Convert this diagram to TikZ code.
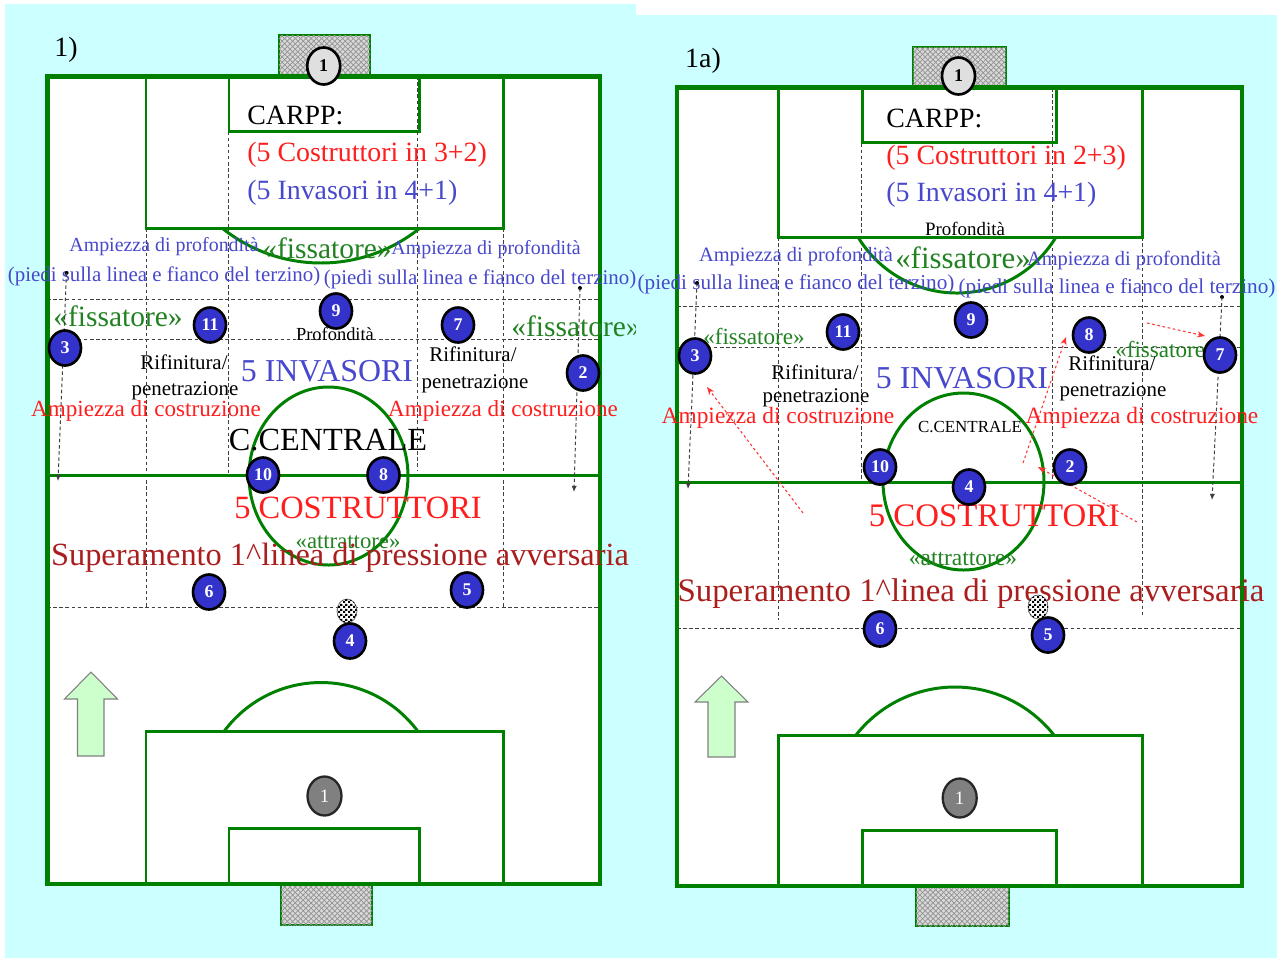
\documentclass[tikz,border=0pt]{standalone}
\usepackage{fontspec}
\setmainfont{Liberation Serif}
\usetikzlibrary{shapes.geometric,patterns,arrows.meta}
\definecolor{bgcyan}{RGB}{204,255,255}
\definecolor{pitchgreen}{RGB}{0,128,0}
\definecolor{txtblue}{RGB}{72,72,204}
\definecolor{txtgreen}{RGB}{34,130,34}
\definecolor{txtred}{RGB}{255,30,30}
\definecolor{txtdred}{RGB}{170,30,30}
\definecolor{plblue}{RGB}{51,51,204}
\definecolor{arrowfill}{RGB}{204,255,204}
\pgfdeclarepatternformonly{finecheck}{\pgfpointorigin}{\pgfqpoint{2.6pt}{2.6pt}}{\pgfqpoint{2.6pt}{2.6pt}}{%
  \pgfpathrectangle{\pgfpointorigin}{\pgfqpoint{1.3pt}{1.3pt}}%
  \pgfpathrectangle{\pgfqpoint{1.3pt}{1.3pt}}{\pgfqpoint{1.3pt}{1.3pt}}%
  \pgfusepath{fill}}
\newcommand\pxf[1]{\edef\pxsize{\fpeval{round(#1*0.5669,2)}}\fontsize{\pxsize pt}{\pxsize pt}\selectfont}
\tikzset{
  player/.style={ellipse, draw=black, line width=1.5pt, fill=plblue, text=white, font=\bfseries\pxf{18}, minimum width=0.64cm, minimum height=0.70cm, inner sep=0pt},
  gkhi/.style={ellipse, draw=black, line width=1.5pt, fill=gray!25, text=black, font=\bfseries\pxf{18}, minimum width=0.66cm, minimum height=0.74cm, inner sep=0pt},
  gklo/.style={ellipse, draw=black!85, line width=1.3pt, fill=gray, text=white, font=\pxf{19}, minimum width=0.68cm, minimum height=0.78cm, inner sep=0pt},
  ballst/.style={ellipse, draw=black!60, line width=0.4pt, fill=white, postaction={pattern=finecheck}, minimum width=0.40cm, minimum height=0.48cm, inner sep=0pt},
  lbl/.style={inner sep=0pt, anchor=center},
  pline/.style={draw=pitchgreen, line width=1.7pt},
  outerline/.style={draw=pitchgreen, line width=2.8pt},
  gridline/.style={draw=black!75, line width=0.55pt, dash pattern=on 2pt off 1.5pt},
  sidearr/.style={gridline, -{Latex[length=3.5pt,width=3pt]}},
  redarr/.style={draw=red!80, line width=0.6pt, dash pattern=on 1.5pt off 1.5pt, -{Stealth[length=4.5pt,width=3.5pt]}},
  goalbox/.style={draw=pitchgreen, line width=1.5pt, fill=gray!30, postaction={pattern=crosshatch, pattern color=gray!85}},
  bigarrow/.style={fill=arrowfill, draw=gray, line width=0.6pt},
}
\begin{document}
\begin{tikzpicture}[x=0.02cm, y=-0.02cm]
\useasboundingbox (0,0) rectangle (1277,961);
\fill[white] (0,0) rectangle (1277,961);
% ================= LEFT PANEL =================
\fill[bgcyan] (5,4) rectangle (636,958);
\fill[white] (47.5,76.5) rectangle (600,884);
\draw[goalbox] (279,35) rectangle (370,76.5);
\draw[goalbox] (281,884) rectangle (372,925);
\draw[gridline] (146,228) -- (146,608);
\draw[gridline] (228,76) -- (228,475);
\draw[gridline] (417,76) -- (417,470);
\draw[gridline] (503,228) -- (503,608);
\draw[gridline] (47,299) -- (600,299);
\draw[gridline] (47,339) -- (600,339);
\draw[gridline] (47,607) -- (600,607);
\draw[pline] (146,76.5) rectangle (503,228);
\draw[pline] (229,76.5) rectangle (419,131);
\draw[pline] (420,228) arc[start angle=51.06,end angle=128.94,radius=157.5];
\draw[pline] (146,731.5) rectangle (503,884);
\draw[pline] (229,828) rectangle (419,884);
\draw[pline] (224,731.5) arc[start angle=216.4,end angle=323.6,radius=120.5];
\draw[pline] (47.5,475.5) -- (600,475.5);
\draw[pline] (328.5,476) ellipse [x radius=79.5, y radius=89];
\draw[outerline] (47.5,76.5) rectangle (600,884);
\draw[bigarrow] (77.5,756) -- (77.5,699) -- (64.5,699) -- (91,672) -- (117.5,699) -- (104,699) -- (104,756) -- cycle;
% texts
\node[lbl,font=\pxf{28}] (Lnum) at (66,50) {1)};
\node[lbl,anchor=west,font=\pxf{28}] (Lcarpp) at (247,115.5) {CARPP:};
\node[lbl,anchor=west,font=\pxf{28},text=txtred] (Lcos) at (247,155) {(5 Costruttori in 3+2)};
\node[lbl,anchor=west,font=\pxf{28},text=txtblue] (Linv) at (247,193) {(5 Invasori in 4+1)};
\node[lbl,font=\pxf{20},text=txtblue] (Lap1) at (164,247) {Ampiezza di profondità};
\node[lbl,font=\pxf{21},text=txtblue] (Lpi1) at (164,276) {(piedi sulla linea e fianco del terzino)};
\node[lbl,font=\pxf{29.6},text=txtgreen] (Lfc) at (327,248) {«fissatore»};
\node[lbl,font=\pxf{20},text=txtblue] (Lap2) at (486,250) {Ampiezza di profondità};
\node[lbl,font=\pxf{21},text=txtblue] (Lpi2) at (480,279) {(piedi sulla linea e fianco del terzino)};
\node[lbl,font=\pxf{29.6},text=txtgreen] (Lfl) at (118,316) {«fissatore»};
\node[lbl,font=\pxf{29.6},text=txtgreen] (Lfr) at (576,326) {«fissatore»};
\node[lbl,font=\pxf{18.5}] (Lprof) at (335,334) {Profondità};
\node[lbl,font=\pxf{21}] (Lri1) at (184,362) {Rifinitura/};
\node[lbl,font=\pxf{21}] (Lpe1) at (185,391) {penetrazione};
\node[lbl,font=\pxf{21}] (Lri2) at (473,354) {Rifinitura/};
\node[lbl,font=\pxf{21}] (Lpe2) at (475,384) {penetrazione};
\node[lbl,font=\pxf{32},text=txtblue] (Linvb) at (327,371) {5 INVASORI};
\node[lbl,font=\pxf{23.2},text=txtred] (Lac1) at (146,411) {Ampiezza di costruzione};
\node[lbl,font=\pxf{23.2},text=txtred] (Lac2) at (503,411) {Ampiezza di costruzione};
\node[lbl,font=\pxf{32.4}] (Lcc) at (328,440) {C.CENTRALE};
\node[lbl,font=\pxf{32.6},text=txtred] (Lcost) at (358,508) {5 COSTRUTTORI};
\node[lbl,font=\pxf{22.8},text=txtgreen] (Latt) at (348,542) {«attrattore»};
\node[lbl,font=\pxf{32.5},text=txtdred] (Lsup) at (340,558) {Superamento 1\textasciicircum linea di pressione avversaria};
% side arrows
\coordinate (Ls1a) at (66.5,273); \coordinate (Ls1b) at (58,481);
\coordinate (Ls2a) at (580,288); \coordinate (Ls2b) at (574,492);
\fill (Ls1a) circle[radius=2]; \fill (Ls2a) circle[radius=2];
\draw[sidearr] (Ls1a) -- (Ls1b);
\draw[sidearr] (Ls2a) -- (Ls2b);
% players
\node[gkhi] (Lgk1) at (323.7,66) {1};
\node[gklo] (Lgk2) at (324.5,796) {1};
\node[player] (L3) at (65,348) {3};
\node[player] (L11) at (210,325) {11};
\node[player] (L9) at (336,311) {9};
\node[player] (L7) at (458,325) {7};
\node[player] (L2) at (583,373) {2};
\node[player] (L10) at (263,475) {10};
\node[player] (L8) at (383.5,475) {8};
\node[player] (L6) at (209,592) {6};
\node[player] (L5) at (467,590) {5};
\node[ballst] (Lball) at (347,611) {};
\node[player] (L4) at (350,641) {4};
% ================= RIGHT PANEL =================
\fill[bgcyan] (636,15) rectangle (1277,958);
\fill[white] (677,87.5) rectangle (1242,886);
\draw[goalbox] (913,47) rectangle (1006,87.5);
\draw[goalbox] (916,886) rectangle (1009,926);
\draw[gridline] (778,237) -- (778,620);
\draw[gridline] (861,88) -- (861,482);
\draw[gridline] (1052,88) -- (1052,482);
\draw[gridline] (1142,237) -- (1142,615);
\draw[gridline] (677,306) -- (1242,306);
\draw[gridline] (677,347) -- (1242,347);
\draw[gridline] (677,628) -- (1242,628);
\draw[pline] (778,87.5) rectangle (1142,237);
\draw[pline] (862.5,87.5) rectangle (1056,142);
\draw[pline] (1056,237) arc[start angle=31,end angle=149,radius=115.5];
\draw[pline] (778,735) rectangle (1142,886);
\draw[pline] (862.5,830) rectangle (1056,886);
\draw[pline] (856,735) arc[start angle=218.25,end angle=321.75,radius=126];
\draw[pline] (677,482) -- (1242,482);
\draw[pline] (963.5,481.5) ellipse [x radius=80.5, y radius=88.5];
\draw[outerline] (677,87.5) rectangle (1242,886);
\draw[bigarrow] (708,757) -- (708,702) -- (695,702) -- (721.5,676) -- (748,702) -- (735,702) -- (735,757) -- cycle;
% texts
\node[lbl,font=\pxf{28}] (Rnum) at (703,61) {1a)};
\node[lbl,anchor=west,font=\pxf{28}] (Rcarpp) at (886,118) {CARPP:};
\node[lbl,anchor=west,font=\pxf{28},text=txtred] (Rcos) at (886,158) {(5 Costruttori in 2+3)};
\node[lbl,anchor=west,font=\pxf{28},text=txtblue] (Rinv) at (886,195) {(5 Invasori in 4+1)};
\node[lbl,font=\pxf{19}] (Rprof) at (965,229) {Profondità};
\node[lbl,font=\pxf{20.5},text=txtblue] (Rap1) at (796,256) {Ampiezza di profondità};
\node[lbl,font=\pxf{21.3},text=txtblue] (Rpi1) at (796,284) {(piedi sulla linea e fianco del terzino)};
\node[lbl,font=\pxf{31},text=txtgreen] (Rfc) at (963,258) {«fissatore»};
\node[lbl,font=\pxf{20.5},text=txtblue] (Rap2) at (1124,260) {Ampiezza di profondità};
\node[lbl,font=\pxf{21.3},text=txtblue] (Rpi2) at (1117,288) {(piedi sulla linea e fianco del terzino)};
\node[lbl,font=\pxf{23.2},text=txtgreen] (Rfl) at (754,336) {«fissatore»};
\node[lbl,font=\pxf{23.2},text=txtgreen] (Rfr) at (1166,349) {«fissatore»};
\node[lbl,font=\pxf{21}] (Rri1) at (815,372) {Rifinitura/};
\node[lbl,font=\pxf{21}] (Rpe1) at (816,398) {penetrazione};
\node[lbl,font=\pxf{21}] (Rri2) at (1112,363) {Rifinitura/};
\node[lbl,font=\pxf{21}] (Rpe2) at (1113,392) {penetrazione};
\node[lbl,font=\pxf{32},text=txtblue] (Rinvb) at (962,378) {5 INVASORI};
\node[lbl,font=\pxf{23.5},text=txtred] (Rac1) at (778,418) {Ampiezza di costruzione};
\node[lbl,font=\pxf{23.5},text=txtred] (Rac2) at (1142,418) {Ampiezza di costruzione};
\node[lbl,font=\pxf{17}] (Rcc) at (970,427) {C.CENTRALE};
\node[lbl,font=\pxf{33},text=txtred] (Rcost) at (994,516) {5 COSTRUTTORI};
\node[lbl,font=\pxf{23.6},text=txtgreen] (Ratt) at (963,559) {«attrattore»};
\node[lbl,font=\pxf{33},text=txtdred] (Rsup) at (971,594) {Superamento 1\textasciicircum linea di pressione avversaria};
% side arrows
\coordinate (Rs1a) at (697,283); \coordinate (Rs1b) at (688,489);
\coordinate (Rs2a) at (1222,297); \coordinate (Rs2b) at (1212,500);
\fill (Rs1a) circle[radius=2]; \fill (Rs2a) circle[radius=2];
\draw[sidearr] (Rs1a) -- (Rs1b);
\draw[sidearr] (Rs2a) -- (Rs2b);
% red movement arrows
\coordinate (Ra1s) at (803,513); \coordinate (Ra1e) at (707,387);
\coordinate (Ra2s) at (1023,463); \coordinate (Ra2e) at (1066,337);
\coordinate (Ra3s) at (1147,323); \coordinate (Ra3e) at (1205,336);
\coordinate (Ra4s) at (1137,522); \coordinate (Ra4e) at (1038,467);
\draw[redarr] (Ra1s) -- (Ra1e);
\draw[redarr] (Ra2s) -- (Ra2e);
\draw[redarr] (Ra3s) -- (Ra3e);
\draw[redarr] (Ra4s) -- (Ra4e);
% players
\node[gkhi] (Rgk1) at (958.5,76) {1};
\node[gklo] (Rgk2) at (959.7,798) {1};
\node[player] (R3) at (695,356) {3};
\node[player] (R11) at (843,332) {11};
\node[player] (R9) at (971,320) {9};
\node[player] (R8) at (1089,335) {8};
\node[player] (R7) at (1220,355) {7};
\node[player] (R10) at (880,467) {10};
\node[player] (R2) at (1070,467) {2};
\node[player] (R4) at (969,487) {4};
\node[player] (R6) at (880,629) {6};
\node[ballst] (Rball) at (1038,607) {};
\node[player] (R5) at (1048,635) {5};
\end{tikzpicture}
\end{document}
